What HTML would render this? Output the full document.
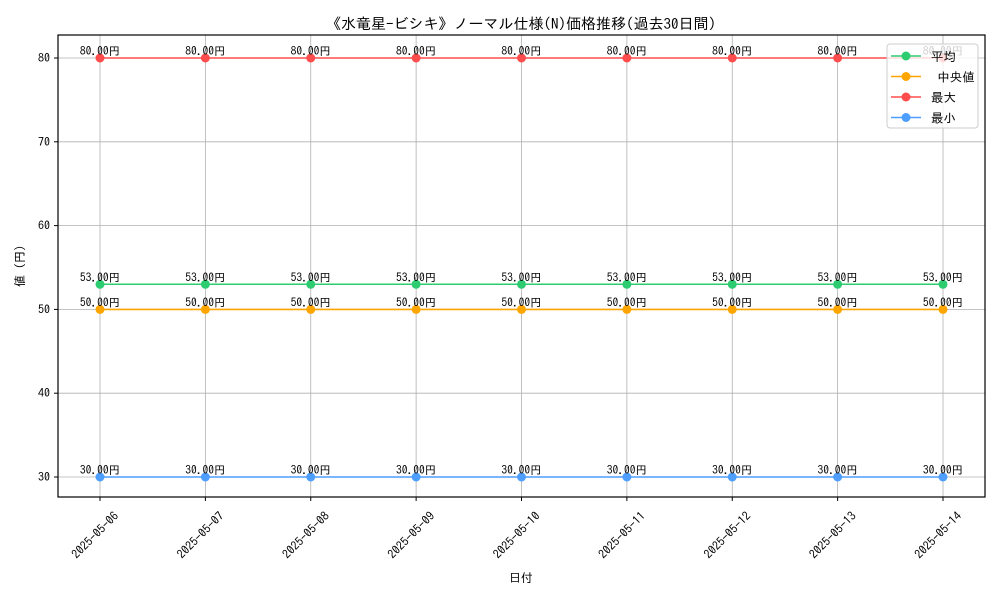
<!DOCTYPE html>
<html><head><meta charset="utf-8">
<style>
html,body{margin:0;padding:0;background:#fff;}
svg{display:block;font-family:"IPAGothic","Liberation Sans","Noto Sans CJK JP",sans-serif;}
</style></head>
<body>
<svg id="chart" width="1000" height="600" viewBox="0 0 1000 600" xmlns="http://www.w3.org/2000/svg">
<rect x="0" y="0" width="1000" height="600" fill="#fff"/>
<text x="521" y="29" text-anchor="middle" font-size="15" fill="#000">《水竜星-ビシキ》ノーマル仕様(N)価格推移(過去30日間)</text>
<g id="grid"></g>
<g id="series"></g>
<rect x="58" y="35" width="927" height="462" fill="none" stroke="#000" stroke-width="1.2"/>
<g id="axes"></g>
<text x="521" y="582" text-anchor="middle" font-size="12">日付</text>
<text x="24" y="266" text-anchor="middle" font-size="12" transform="rotate(-90 24 266)">値 (円)</text>
<g id="legend"></g>
</svg>
<script>
const categories = ["2025-05-06","2025-05-07","2025-05-08","2025-05-09","2025-05-10","2025-05-11","2025-05-12","2025-05-13","2025-05-14"];
const avgValues = [53,53,53,53,53,53,53,53,53];
const medianValues = [50,50,50,50,50,50,50,50,50];
const maxValues = [80,80,80,80,80,80,80,80,80];
const minValues = [30,30,30,30,30,30,30,30,30];
const yTicks = [30,40,50,60,70,80];
const seriesNames = ["平均"," 中央値","最大","最小"];
const seriesColors = ["#2ecc71","#ffa500","#ff4d4d","#4d9eff"];

const NS="http://www.w3.org/2000/svg";
const X0=100, X1=943, Y80=58, Y30=477;
const xScale=i=>X0+(X1-X0)*i/(categories.length-1);
const yScale=v=>Y30+(v-30)*(Y80-Y30)/50;
function mk(tag,attrs,parent){const e=document.createElementNS(NS,tag);for(const k in attrs)e.setAttribute(k,attrs[k]);parent.appendChild(e);return e;}
const grid=document.getElementById('grid'),axes=document.getElementById('axes'),ser=document.getElementById('series'),leg=document.getElementById('legend');

categories.forEach((c,i)=>{
  const x=xScale(i);
  const g=mk('line',{x1:x,x2:x,y1:35,y2:497,stroke:'#b0b0b0','stroke-width':0.8},grid);
  
  
  const t=mk('line',{x1:x,x2:x,y1:497,y2:501,stroke:'#000'},axes);
  
  
  const lx=x-2, ly=538;
  const l=mk('text',{x:lx,y:ly,'text-anchor':'middle','font-size':12,transform:`rotate(-45 ${lx} ${ly})`},axes);
  l.textContent=c;
  
  
});
yTicks.forEach(v=>{
  const y=yScale(v);
  const g=mk('line',{x1:58,x2:985,y1:y,y2:y,stroke:'#b0b0b0','stroke-width':0.8},grid);
  
  
  const t=mk('line',{x1:54,x2:58,y1:y,y2:y,stroke:'#000'},axes);
  
  
  const l=mk('text',{x:50,y:y+4,'text-anchor':'end','font-size':12},axes);
  l.textContent=v;
  
  
});
const allSeries=[avgValues,medianValues,maxValues,minValues];
const sKeys=['avg','median','max','min'];
allSeries.forEach((vals,si)=>{
  const g=mk('g',{},ser);
  
  
  const pts=vals.map((v,i)=>xScale(i)+','+yScale(v)).join(' ');
  const pl=mk('polyline',{points:pts,fill:'none',stroke:seriesColors[si],'stroke-width':1.6},g);
  
  
  vals.forEach((v,i)=>{
    const c=mk('circle',{cx:xScale(i),cy:yScale(v),r:4.5,fill:seriesColors[si]},g);
    
    
    const t=mk('text',{x:xScale(i),y:yScale(v)-3,'text-anchor':'middle','font-size':11.5,fill:'#000'},g);
    t.textContent=v.toFixed(2)+'円';
    
    
  });
});
const lb=mk('rect',{x:887,y:44,width:91,height:84,rx:3,fill:'#fff','fill-opacity':0.8,stroke:'#ccc'},leg);


seriesNames.forEach((n,i)=>{
  const y=56+i*20.5;
  const g=mk('g',{},leg);
  
  
  mk('line',{x1:891,x2:921,y1:y,y2:y,stroke:seriesColors[i],'stroke-width':1.6},g);
  mk('circle',{cx:906,cy:y,r:4.5,fill:seriesColors[i]},g);
  const t=mk('text',{x:931,y:y+5,'font-size':12.5,style:'white-space:pre'},g);
  t.textContent=n;
});
</script>
</body></html>
